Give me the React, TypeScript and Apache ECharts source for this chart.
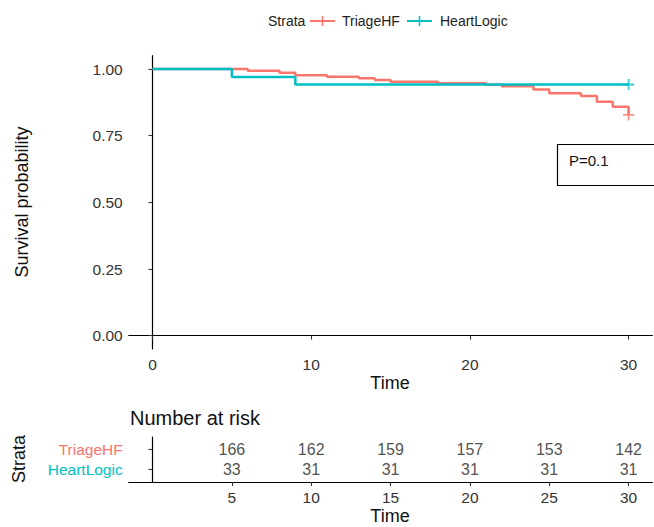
import React, { useEffect, useRef } from 'react';
import * as echarts from 'echarts';

// ---- data ----
const STRATA = ['TriageHF', 'HeartLogic'];
const COLORS = ['#F8766D', '#00BFC4'];

const TIMES_TRIAGE = [0, 6, 8, 9, 11, 13, 14, 15, 18, 21, 22, 24, 25, 27, 28, 29, 30];
const SURV_TRIAGE = [1, 0.994, 0.986, 0.977, 0.971, 0.965, 0.959, 0.952, 0.947, 0.941, 0.935, 0.923, 0.909, 0.899, 0.877, 0.859, 0.828];
const TIMES_HL = [0, 5, 9, 30];
const SURV_HL = [1, 0.97, 0.942, 0.942];
const CENSOR_TRIAGE = [[30, 0.828]];
const CENSOR_HL = [[30, 0.942]];

const X_TICKS = [0, 10, 20, 30];
const Y_TICKS = [0, 0.25, 0.5, 0.75, 1];
const RISK_TIMES = [5, 10, 15, 20, 25, 30];
const RISK_TRIAGE = [166, 162, 159, 157, 153, 142];
const RISK_HL = [33, 31, 31, 31, 31, 31];
const P_TEXT = 'P=0.1';

const FONT = '"Liberation Sans", Arial, Helvetica, sans-serif';
const CROSS =
  'path://M-0.16,-1L0.16,-1L0.16,-0.16L1,-0.16L1,0.16L0.16,0.16L0.16,1L-0.16,1L-0.16,0.16L-1,0.16L-1,-0.16L-0.16,-0.16Z';

const GRID_LEFT = 128.7;
const GRID_RIGHT = 1.6;

function buildOption() {
  const triLine = TIMES_TRIAGE.map((t, i) => [t, SURV_TRIAGE[i]]);
  const hlLine = TIMES_HL.map((t, i) => [t, SURV_HL[i]]);
  const riskData = [
    ...RISK_TIMES.map((t, i) => [t, 2, RISK_TRIAGE[i]]),
    ...RISK_TIMES.map((t, i) => [t, 1, RISK_HL[i]]),
  ];
  const axisLine = { show: true, lineStyle: { color: '#000', width: 1.2 } };
  const axisTickBase = { show: true, length: 4, lineStyle: { color: '#333', width: 1.1 } };
  const txt = (o: any) => ({
    type: 'text',
    ...o,
    style: {
      fontFamily: FONT,
      fill: '#111',
      ...o.style,
      align: o.style.textAlign,
      verticalAlign: o.style.textVerticalAlign,
    },
  });

  return {
    animation: false,
    backgroundColor: '#fff',
    textStyle: { fontFamily: FONT },
    grid: [
      { left: GRID_LEFT, right: GRID_RIGHT, top: 55.7, height: 293.3 },
      { left: GRID_LEFT, right: GRID_RIGHT, top: 437, height: 45 },
    ],
    xAxis: [
      {
        type: 'value', gridIndex: 0, min: -1.5, max: 31.5,
        splitLine: { show: false }, axisLine,
        axisTick: { ...axisTickBase, customValues: X_TICKS },
        axisLabel: { customValues: X_TICKS, fontSize: 15.5, color: '#333', margin: 7, fontFamily: FONT },
      },
      {
        type: 'value', gridIndex: 1, min: -1.5, max: 31.5,
        splitLine: { show: false }, axisLine,
        axisTick: { ...axisTickBase, customValues: RISK_TIMES },
        axisLabel: { customValues: RISK_TIMES, fontSize: 15.5, color: '#333', margin: 7, fontFamily: FONT },
      },
    ],
    yAxis: [
      {
        type: 'value', gridIndex: 0, min: -0.05, max: 1.05,
        splitLine: { show: false }, axisLine,
        axisTick: { ...axisTickBase, customValues: Y_TICKS },
        axisLabel: {
          customValues: Y_TICKS, fontSize: 15.5, color: '#333', margin: 6, fontFamily: FONT,
          formatter: (v: number) => v.toFixed(2),
        },
      },
      {
        type: 'value', gridIndex: 1, min: 0.4, max: 2.6,
        splitLine: { show: false }, axisLine,
        axisTick: { ...axisTickBase, customValues: [1, 2] },
        axisLabel: {
          customValues: [1, 2], fontSize: 15.5, margin: 6, fontFamily: FONT,
          formatter: (v: number) => (Math.round(v) === 2 ? `{t|${STRATA[0]}}` : `{h|${STRATA[1]}}`),
          rich: {
            t: { color: COLORS[0], fontSize: 15.5, fontFamily: FONT },
            h: { color: COLORS[1], fontSize: 15.5, fontFamily: FONT },
          },
        },
      },
    ],
    series: [
      {
        name: STRATA[0], type: 'line', xAxisIndex: 0, yAxisIndex: 0, step: 'end',
        data: triLine, showSymbol: false, lineStyle: { color: COLORS[0], width: 2.5 }, z: 2,
      },
      {
        name: STRATA[1], type: 'line', xAxisIndex: 0, yAxisIndex: 0, step: 'end',
        data: hlLine, showSymbol: false, lineStyle: { color: COLORS[1], width: 2.5 }, z: 3,
      },
      {
        type: 'scatter', xAxisIndex: 0, yAxisIndex: 0, data: CENSOR_TRIAGE,
        symbol: CROSS, symbolSize: 11, itemStyle: { color: COLORS[0] }, z: 4,
      },
      {
        type: 'scatter', xAxisIndex: 0, yAxisIndex: 0, data: CENSOR_HL,
        symbol: CROSS, symbolSize: 11, itemStyle: { color: COLORS[1] }, z: 4,
      },
      {
        type: 'scatter', xAxisIndex: 1, yAxisIndex: 1, data: riskData, symbolSize: 0,
        itemStyle: { color: 'transparent' },
        label: {
          show: true, position: 'inside', fontSize: 16, color: '#222', fontFamily: FONT,
          formatter: (p: any) => String(p.value[2]),
        },
      },
    ],
    graphic: [
      // legend
      txt({ x: 268, y: 21, style: { text: 'Strata', fontSize: 14, fill: '#222', textAlign: 'left', textVerticalAlign: 'middle' } }),
      { type: 'line', shape: { x1: 310, y1: 21, x2: 335, y2: 21 }, style: { stroke: COLORS[0], lineWidth: 2 } },
      { type: 'line', shape: { x1: 322.5, y1: 16, x2: 322.5, y2: 26 }, style: { stroke: COLORS[0], lineWidth: 1.5 } },
      txt({ x: 342, y: 21, style: { text: STRATA[0], fontSize: 14, fill: '#222', textAlign: 'left', textVerticalAlign: 'middle' } }),
      { type: 'line', shape: { x1: 407, y1: 21, x2: 432, y2: 21 }, style: { stroke: COLORS[1], lineWidth: 2 } },
      { type: 'line', shape: { x1: 419.5, y1: 16, x2: 419.5, y2: 26 }, style: { stroke: COLORS[1], lineWidth: 1.5 } },
      txt({ x: 440, y: 21, style: { text: STRATA[1], fontSize: 14, fill: '#222', textAlign: 'left', textVerticalAlign: 'middle' } }),
      // axis titles
      txt({ x: 22, y: 202, rotation: Math.PI / 2, style: { text: 'Survival probability', fontSize: 18, fill: '#111', textAlign: 'center', textVerticalAlign: 'middle' } }),
      txt({ x: 390, y: 383, style: { text: 'Time', fontSize: 18, fill: '#111', textAlign: 'center', textVerticalAlign: 'middle' } }),
      // P value box
      { type: 'rect', shape: { x: 557.5, y: 144.5, width: 110, height: 41 }, style: { fill: '#fff', stroke: '#000', lineWidth: 1.2 }, z: 10 },
      txt({ x: 569, y: 160, z: 11, style: { text: P_TEXT, fontSize: 15, fill: '#111', textAlign: 'left', textVerticalAlign: 'middle' } }),
      // risk table titles
      txt({ x: 130, y: 418, style: { text: 'Number at risk', fontSize: 20, fill: '#111', textAlign: 'left', textVerticalAlign: 'middle' } }),
      txt({ x: 19, y: 459, rotation: Math.PI / 2, style: { text: 'Strata', fontSize: 18, fill: '#111', textAlign: 'center', textVerticalAlign: 'middle' } }),
      txt({ x: 390, y: 516, style: { text: 'Time', fontSize: 18, fill: '#111', textAlign: 'center', textVerticalAlign: 'middle' } }),
    ],
  };
}

export default function App() {
  const ref = useRef<HTMLDivElement>(null);
  useEffect(() => {
    if (!ref.current) return;
    const chart = echarts.init(ref.current, null, { renderer: 'svg' });
    chart.setOption(buildOption() as any);
    return () => chart.dispose();
  }, []);
  return (
    <div
      ref={ref}
      style={{ position: 'absolute', left: 0, top: 0, width: 654, height: 527, background: '#fff' }}
    />
  );
}
